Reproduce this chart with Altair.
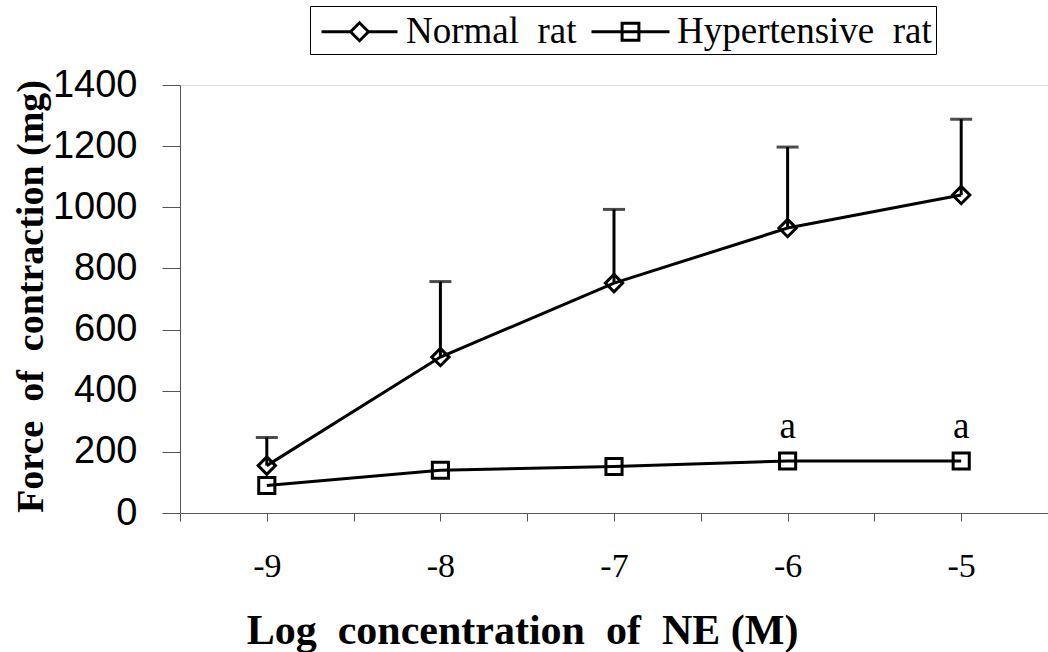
import altair as alt
import pandas as pd

log_conc = [-9, -8, -7, -6, -5]
normal_mean = [155, 510, 752, 932, 1040]
normal_upper = [247, 757, 993, 1197, 1288]
hyper_mean = [90, 140, 152, 170, 170]
sig_labels = ["", "", "", "a", "a"]
sig_y = [280, 280, 280, 280, 280]
series = ["Normal\u00a0 rat", "Hypertensive\u00a0 rat"]

rows = []
for i, x in enumerate(log_conc):
    rows.append({"x": x, "y": normal_mean[i], "upper": normal_upper[i], "series": series[0]})
    rows.append({"x": x, "y": hyper_mean[i], "upper": None, "series": series[1]})
df = pd.DataFrame(rows)
normal_df = df[df.series == series[0]]
sig_df = pd.DataFrame({"x": log_conc, "y": sig_y, "t": sig_labels})
sig_df = sig_df[sig_df.t != ""]
leg_df = pd.DataFrame({"x": [log_conc[0]] * 2, "y": [0, 0], "series": series})

SERIF = "Liberation Serif"
SANS = "Liberation Sans"

xscale = alt.Scale(domain=[-9.5, -4.5], nice=False, zero=False)
yscale = alt.Scale(domain=[0, 1400], nice=False)
tick_vals = [-9.5, -9, -8.5, -8, -7.5, -7, -6.5, -6, -5.5, -5, -4.5]

xax = alt.Axis(values=tick_vals, labelExpr="datum.value % 1 == 0 ? toString(datum.value) : ''",
               grid=False, tickSize=8, labelPadding=28, labelFont=SERIF, labelFontSize=34,
               labelColor="black", title="Log\u00a0 concentration\u00a0 of\u00a0 NE (M)",
               titleFont=SERIF, titleFontSize=42, titleFontWeight="bold", titleColor="black",
               titleX=342, titleY=117, titleBaseline="middle", titleAnchor="middle",
               domainColor="#555", tickColor="#555", labelFlush=False, labelOverlap=False)
yax = alt.Axis(values=[0, 200, 400, 600, 800, 1000, 1200, 1400], format="d", grid=False, tickSize=18,
               labelPadding=25, labelFont=SANS, labelFontSize=38, labelColor="black",
               title="Force\u00a0 of\u00a0 contraction (mg)", titleFont=SERIF, titleFontSize=38,
               titleFontWeight="bold", titleColor="black", titleX=-149, titleY=211,
               titleBaseline="middle", titleAlign="center", titleAngle=-90,
               domainColor="#555", tickColor="#555", labelFlush=False)

base = alt.Chart(df)
shape_scale = alt.Scale(domain=series, range=["diamond", "square"])

lines = base.mark_line(color="black", strokeWidth=3).encode(
    x=alt.X("x:Q", scale=xscale, axis=xax),
    y=alt.Y("y:Q", scale=yscale, axis=yax),
    detail="series:N",
)
err = alt.Chart(normal_df).mark_rule(color="black", strokeWidth=3).encode(
    x="x:Q", y="y:Q", y2="upper:Q")
caps = alt.Chart(normal_df).mark_tick(color="black", thickness=3, size=22, orient="horizontal").encode(
    x="x:Q", y="upper:Q")
pts = base.mark_point(filled=False, color="black", strokeWidth=3, opacity=1).encode(
    x="x:Q", y="y:Q",
    shape=alt.Shape("series:N", scale=shape_scale, legend=None),
    size=alt.Size("series:N", scale=alt.Scale(domain=series, range=[300, 260]), legend=None),
)
sig = alt.Chart(sig_df).mark_text(font=SERIF, fontSize=37, color="black", baseline="middle").encode(
    x="x:Q", y="y:Q", text="t:N")

# legend symbols: line with marker, size 1600 -> 40px unit box (path units of 20px)
diamond_path = "M-1.9,0H-0.45L0,-0.45L0.45,0H1.9M0.45,0L0,0.45L-0.45,0"
square_path = "M-1.95,0H1.95M-0.42,-0.42H0.42V0.42H-0.42Z"
leg = alt.Chart(leg_df).mark_point(filled=False, color="black", opacity=0).encode(
    x="x:Q", y="y:Q",
    shape=alt.Shape("series:N", scale=alt.Scale(domain=series, range=[diamond_path, square_path]),
                    legend=alt.Legend(title=None, orient="none", direction="horizontal",
                                      legendX=130, legendY=-79, symbolSize=1600,
                                      symbolOffset=24, symbolStrokeWidth=3, symbolOpacity=1,
                                      symbolStrokeColor="black", symbolFillColor="transparent",
                                      labelFont=SERIF, labelFontSize=37, labelColor="black",
                                      labelOffset=25, columnPadding=8, padding=4,
                                      strokeColor="black", fillColor="white", labelLimit=400)),
)

chart = alt.layer(lines, err, caps, pts, sig, leg).resolve_scale(shape="independent", size="independent").properties(
    width=868, height=428,
    padding={"left": 180, "top": 85, "right": 0, "bottom": 139},
    autosize="none",
).configure_view(stroke=None).configure(background="white")

chart.save("out.html", embed_options={"renderer": "svg", "actions": False})
